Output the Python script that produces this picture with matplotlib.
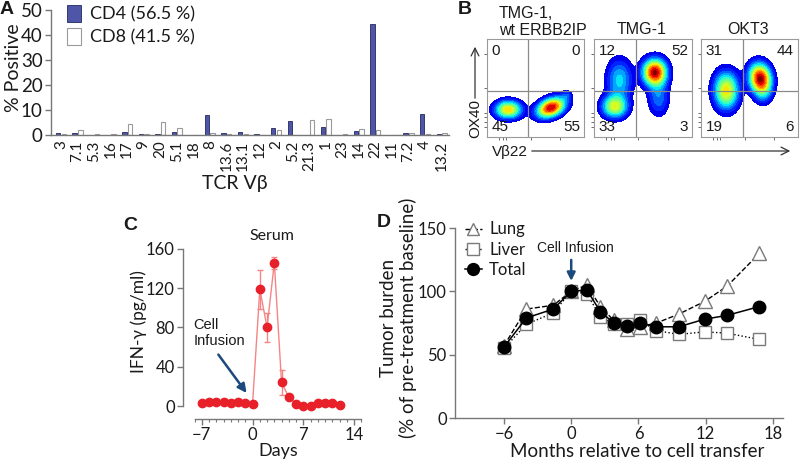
import numpy as np
import matplotlib.pyplot as plt

plt.rcParams['font.family'] = ['Lato', 'DejaVu Sans']
plt.rcParams['text.color'] = '#1a1a1a'
plt.rcParams['xtick.color'] = '#777777'
plt.rcParams['ytick.color'] = '#777777'
plt.rcParams['xtick.labelcolor'] = '#1a1a1a'
plt.rcParams['ytick.labelcolor'] = '#1a1a1a'

W, H = 800, 461
ARIAL = ['Liberation Sans', 'DejaVu Sans']
NAVY = '#1d4a7c'
AXIS_GREY = '#777777'

# ---------------- data ----------------
# A: TCR V-beta usage
vb_families = ['3', '7.1', '5.3', '16', '17', '9', '20', '5.1', '18', '8', '13.6', '13.1',
               '12', '2', '5.2', '21.3', '1', '23', '14', '22', '11', '7.2', '4', '13.2']
cd4_pct = [0.8, 0.6, 0.1, 0.1, 1.1, 0.4, 0.4, 1.2, 0.1, 8.0, 0.6, 1.1,
           0.2, 2.6, 5.5, 0.1, 3.2, 0.1, 1.4, 44.2, 0.1, 0.7, 8.4, 0.4]
cd8_pct = [0.3, 1.8, 0.3, 0.3, 4.2, 0.3, 5.0, 2.8, 0.1, 0.9, 0.3, 0.5,
           0.1, 2.0, 0.1, 6.1, 6.2, 0.4, 2.5, 2.0, 0.1, 0.7, 0.3, 0.8]

# B: flow plots, quadrant % (upper-left, upper-right, lower-left, lower-right)
flow_titles = ['TMG-1,\nwt ERBB2IP', 'TMG-1', 'OKT3']
flow_quadrants = [[0, 0, 45, 55], [12, 52, 33, 3], [31, 44, 19, 6]]
gate_x = [0.42, 0.43, 0.43]
gate_y = 0.47
# density populations (fraction of plot): centre, spread, peak, tilt
blob_x = [[0.22, 0.66, 0.82], [0.21, 0.26, 0.62, 0.66], [0.26, 0.26, 0.61, 0.64]]
blob_y = [[0.28, 0.30, 0.42], [0.31, 0.58, 0.66, 0.40], [0.50, 0.40, 0.60, 0.45]]
blob_sx = [[0.09, 0.10, 0.035], [0.085, 0.085, 0.08, 0.07], [0.085, 0.08, 0.075, 0.06]]
blob_sy = [[0.06, 0.06, 0.035], [0.075, 0.14, 0.09, 0.12], [0.12, 0.11, 0.10, 0.08]]
blob_peak = [[0.72, 1.0, 0.15], [0.62, 0.36, 1.0, 0.25], [0.55, 0.2, 1.0, 0.2]]
blob_tilt = [[0, 22, 0], [0, 0, 0, 0], [0, 0, 10, 0]]

# C: serum IFN-gamma
serum_days = list(range(-7, 13))
ifng = [3.5, 4.5, 4, 4, 3.5, 4.5, 3.5, 2.5, 119, 80, 146, 24, 9, 2.5, 0.5, 0.5, 3, 3.5, 3, 1.5]
ifng_err = [0, 0, 0, 0, 0, 0, 0, 0, 20, 15, 6, 12.5, 0, 0, 0, 0, 0, 0, 0, 0]

# D: tumour burden
months = [-6, -4.0, -1.6, 0, 1.4, 2.6, 3.8, 5.0, 6.1, 7.6, 9.6, 11.9, 13.9, 16.8]
lung = [57, 86, 89, 100, 105, 88, 77, 70, 72, 75, 82, 92, 104, 130]
liver = [55, 74, 83, 100, 98, 80, 74, 74, 77, 69, 66, 68, 67, 62]
total = [56, 79, 86, 100, 101, 84, 75, 73, 75, 72, 72, 78, 81, 88]

fig = plt.figure(figsize=(8, 4.61), dpi=100)


def add_ax(l, t, r, b):
    # axes from pixel box (left, top, right, bottom)
    return fig.add_axes([l / W, 1 - b / H, (r - l) / W, (b - t) / H])


def style_axes(ax, size):
    for s in ['top', 'right']:
        ax.spines[s].set_visible(False)
    for s in ['left', 'bottom']:
        ax.spines[s].set_color(AXIS_GREY)
        ax.spines[s].set_linewidth(1)
    ax.tick_params(labelsize=size, length=4, width=1, pad=2)


# ---------------- A ----------------
axA = add_ax(51, 10, 449, 135)
x = np.arange(len(vb_families))
axA.bar(x - 0.17, cd4_pct, 0.27, color='#4f56a8', edgecolor='#23285e', lw=0.6,
        label='CD4 (56.5 %)')
axA.bar(x + 0.17, cd8_pct, 0.27, color='white', edgecolor='#9a9a9a', lw=0.8,
        label='CD8 (41.5 %)')
axA.set_xlim(-0.6, 23.45)
axA.set_ylim(0, 50)
style_axes(axA, 13.5)
axA.set_yticks([0, 10, 20, 30, 40, 50])
axA.set_xticks(x)
axA.set_xticklabels(vb_families, rotation=90)
axA.tick_params(axis='x', length=0, pad=4, labelsize=11)
axA.legend(loc='upper left', bbox_to_anchor=(0.04, 1.04), frameon=False, fontsize=13,
           handlelength=0.8, handleheight=1.05, handletextpad=0.5, labelspacing=0.3,
           borderaxespad=0, borderpad=0)

# ---------------- B ----------------
gx, gy = np.meshgrid(np.linspace(0, 1, 220), np.linspace(0, 1, 220))
box_left = [487, 594, 701]
box_right = [584, 692, 798]
for i in range(3):
    ax = add_ax(box_left[i], 39, box_right[i], 137)
    z = np.zeros_like(gx)
    for cx, cy, sx, sy, pk, tl in zip(blob_x[i], blob_y[i], blob_sx[i], blob_sy[i],
                                       blob_peak[i], blob_tilt[i]):
        a = np.deg2rad(tl)
        u = (gx - cx) * np.cos(a) + (gy - cy) * np.sin(a)
        v = -(gx - cx) * np.sin(a) + (gy - cy) * np.cos(a)
        z += pk * np.exp(-0.5 * ((u / sx) ** 2 + (v / sy) ** 2))
    ax.contourf(gx, gy, z, levels=np.linspace(0.07, 1.0, 15), cmap='jet',
                vmin=0, vmax=1.05, extend='max')
    ax.axvline(gate_x[i], color='#8a8a8a', lw=0.9)
    ax.axhline(gate_y, color='#8a8a8a', lw=0.9)
    ax.set_xlim(0, 1)
    ax.set_ylim(0, 1)
    for s in ax.spines.values():
        s.set_color('#9a9a9a')
        s.set_linewidth(0.8)
    ax.set_xticks([0.12, 0.17, 0.2, 0.45, 0.75])
    ax.set_yticks([0.1, 0.15, 0.2, 0.25, 0.5, 0.85])
    ax.tick_params(length=2, width=0.6, labelbottom=False, labelleft=False, color='#555')
    ul, ur, ll, lr = flow_quadrants[i]
    kw = dict(transform=ax.transAxes, fontsize=11, family=ARIAL)
    ax.text(0.05, 0.95, str(ul), ha='left', va='top', **kw)
    ax.text(0.96, 0.95, str(ur), ha='right', va='top', **kw)
    ax.text(0.05, 0.03, str(ll), ha='left', va='bottom', **kw)
    ax.text(0.96, 0.03, str(lr), ha='right', va='bottom', **kw)

# ---------------- C ----------------
axC = add_ax(183, 245, 362, 419)
axC.errorbar(serum_days, ifng, yerr=ifng_err, fmt='none', ecolor='#f58585',
             elinewidth=1, capsize=2.5, capthick=1, zorder=1)
axC.plot(serum_days, ifng, color='#f58585', lw=1, marker='o', ms=6,
         mfc='#e8202a', mec='#e8202a', zorder=3)
axC.set_xlim(-9.6, 15.1)
axC.set_ylim(-13.2, 164)
style_axes(axC, 12)
axC.spines['left'].set_bounds(0, 160)
axC.spines['bottom'].set_bounds(-8, 15)
axC.set_yticks([0, 40, 80, 120, 160])
axC.set_xticks([-7, 0, 7, 14])
axC.set_xticks(range(-8, 16), minor=True)
axC.tick_params(axis='x', which='minor', length=2.5, width=0.8)
axC.annotate('', xy=(-0.6, 11), xytext=(-4.95, 54.7),
             arrowprops=dict(arrowstyle='-|>', color=NAVY, lw=1.8, mutation_scale=13))
axC.text(-8.2, 90, 'Cell\nInfusion', ha='left', va='top', fontsize=10.5, family=ARIAL,
         linespacing=1.2)

# ---------------- D ----------------
axD = add_ax(455, 228, 783, 418)
axD.plot(months, lung, ls='--', color='black', lw=1, marker='^', ms=9.5,
         mfc='white', mec='#7a7a7a', mew=1, label='Lung')
axD.plot(months, liver, ls=':', color='black', lw=1, marker='s', ms=8.5,
         mfc='white', mec='#7a7a7a', mew=1, label='Liver')
axD.plot(months, total, ls='-', color='black', lw=1.1, marker='o', ms=9,
         mfc='black', mec='black', label='Total')
axD.set_xlim(-10.37, 18.9)
axD.set_ylim(0, 150)
style_axes(axD, 12)
axD.set_xticks([-6, 0, 6, 12, 18])
axD.set_yticks([0, 50, 100, 150])
axD.legend(loc='upper left', bbox_to_anchor=(0.03, 1.035), frameon=False, fontsize=12,
           handlelength=1.0, handletextpad=0.45, labelspacing=0.25, borderaxespad=0,
           borderpad=0, markerscale=0.95)
axD.text(0.35, 134, 'Cell Infusion', ha='center', va='center', fontsize=10, family=ARIAL)
axD.annotate('', xy=(0, 106), xytext=(0, 127),
             arrowprops=dict(arrowstyle='-|>', color=NAVY, lw=1.8, mutation_scale=12))

# ---------------- labels drawn in pixel coordinates ----------------
ov = fig.add_axes([0, 0, 1, 1], zorder=10)
ov.set_xlim(0, W)
ov.set_ylim(H, 0)
ov.axis('off')
ov.patch.set_alpha(0)

for lab, px, py in [('A', 7, 10), ('B', 465, 10), ('C', 130, 225), ('D', 384, 222)]:
    ov.text(px, py, lab, ha='center', va='center', fontsize=14, fontweight='bold',
            family=ARIAL)

ov.text(14, 68, '% Positive', rotation=90, ha='center', va='center', fontsize=14)
ov.text(235, 183, 'TCR Vβ', ha='center', va='center', fontsize=14)

ov.text(499, 22, flow_titles[0], ha='left', va='center', fontsize=11.5, family=ARIAL,
        linespacing=1.1)
ov.text(642, 30, flow_titles[1], ha='center', va='center', fontsize=11.5, family=ARIAL)
ov.text(748, 30, flow_titles[2], ha='center', va='center', fontsize=11.5, family=ARIAL)
ov.text(475, 118, 'OX40', rotation=90, ha='center', va='center', fontsize=11,
        family=ARIAL)
ov.annotate('', xy=(475, 44), xytext=(475, 101),
            arrowprops=dict(arrowstyle='->', color='#333', lw=0.9, mutation_scale=14))
ov.text(510, 152, 'Vβ22', ha='center', va='center', fontsize=11, family=ARIAL)
ov.annotate('', xy=(793, 151), xytext=(529, 151),
            arrowprops=dict(arrowstyle='->', color='#333', lw=0.9, mutation_scale=14))

ov.text(139, 322, 'IFN-γ (pg/ml)', rotation=90, ha='center', va='center', fontsize=12.5)
ov.text(272, 236, 'Serum', ha='center', va='center', fontsize=11.5)
ov.text(278, 451, 'Days', ha='center', va='center', fontsize=13)

ov.text(388, 318, 'Tumor burden', rotation=90, ha='center', va='center', fontsize=13.5)
ov.text(408, 318, '(% of pre-treatment baseline)', rotation=90, ha='center',
        va='center', fontsize=13.5)
ov.text(637, 451, 'Months relative to cell transfer', ha='center', va='center',
        fontsize=13.5)

fig.savefig('out.png', dpi=100)
